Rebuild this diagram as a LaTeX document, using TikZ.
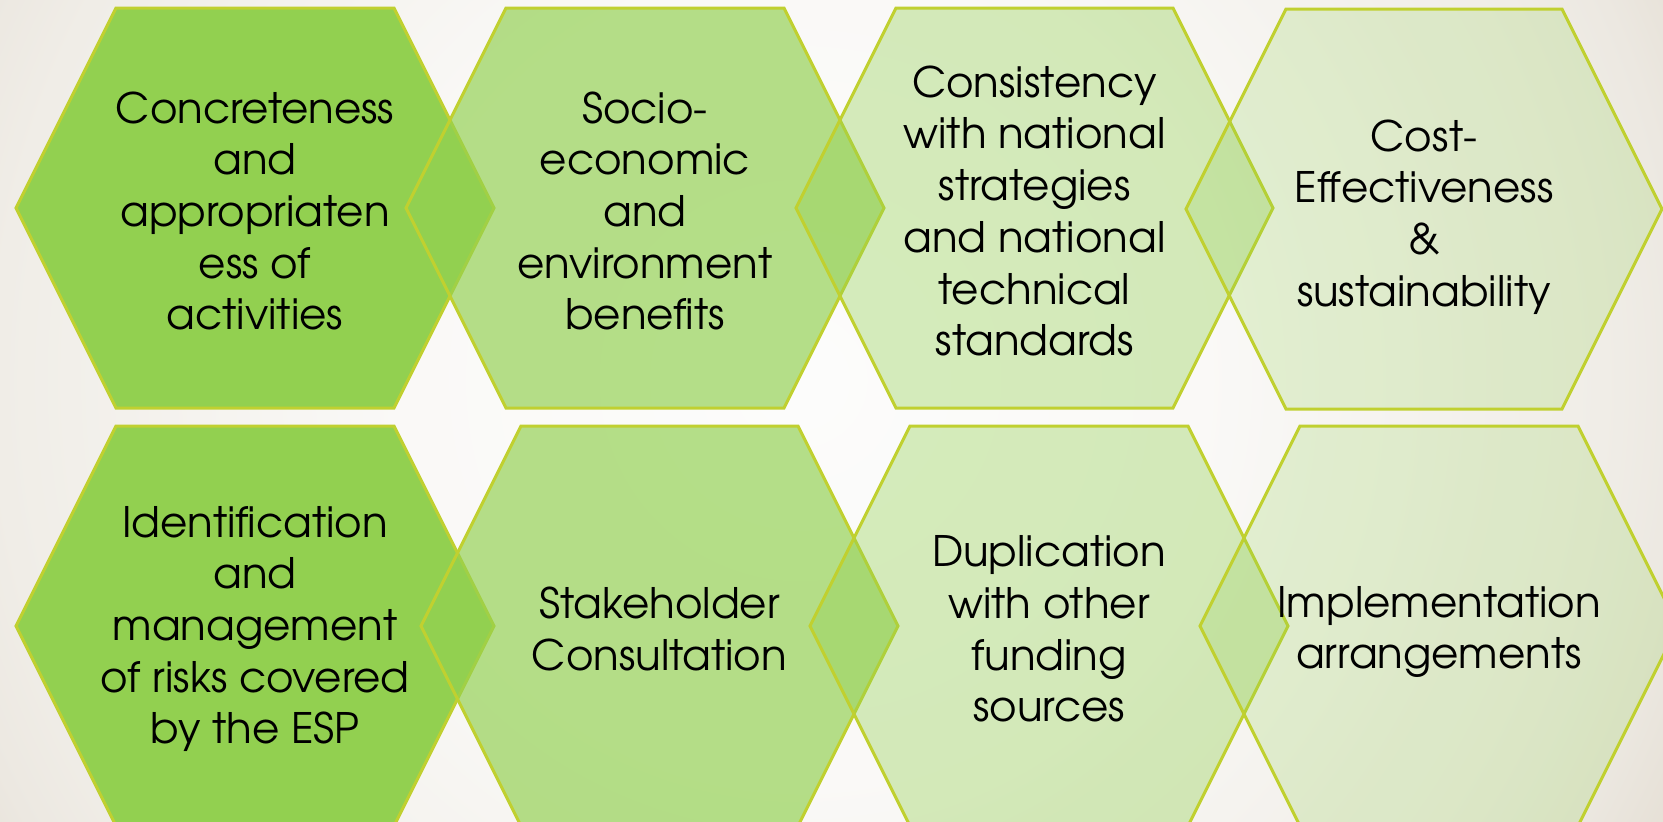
\documentclass[tikz,border=0pt]{standalone}
\usepackage{fontspec}
\setmainfont{TeX Gyre Adventor}
\definecolor{hexgreen}{HTML}{92D050}
\definecolor{hexedge}{HTML}{C0D030}
\definecolor{bgA}{HTML}{FCFCFB}
\definecolor{bgB}{HTML}{FAF9F7}
\definecolor{bgC}{HTML}{F0EDE7}
\definecolor{bgD}{HTML}{ECE8E1}
\definecolor{bgE}{HTML}{E6E0D6}
\definecolor{bgF}{HTML}{E3DDD2}
\pgfdeclareradialshading{bgshade}{\pgfpoint{0bp}{0bp}}{color(0bp)=(bgA); color(400bp)=(bgB); color(800bp)=(bgC); color(886bp)=(bgD); color(970bp)=(bgE); color(1000bp)=(bgF)}
\tikzset{
  hexline/.style={draw=hexedge, line width=3pt, line join=miter, fill=hexgreen},
  hextext/.style={align=center, text=black, inner sep=0pt, font=\fontsize{42}{51.7}\selectfont}
}
\newcommand\hexcell[7]{%
  \path[hexline, fill opacity=#4] (#1,#3) -- ({#1+100},{#3-200}) -- ({#2-100},{#3-200}) -- (#2,#3) -- ({#2-100},{#3+200}) -- ({#1+100},{#3+200}) -- cycle;
  \node[hextext] (#5) at ({(#1+#2)/2},{#3+#7}) {#6};
}
\begin{document}
\begin{tikzpicture}[x=1pt,y=-1pt]
\useasboundingbox (0,0) rectangle (1663,822);
\begin{scope}
  \clip (0,0) rectangle (1663,822);
  \node[inner sep=0pt] (bg) at (800,380) {\pgfuseshading{bgshade}};
  % top row
  \hexcell{16}{494}{208}{1}{h1}{Concreteness\\and\\appropriaten\\ess of\\activities}{3}
  \hexcell{406}{884}{208}{0.67}{h2}{Socio-\\economic\\and\\environment\\benefits}{3}
  \hexcell{796}{1273}{208}{0.37}{h3}{Consistency\\with national\\strategies\\and national\\technical\\standards}{3}
  \hexcell{1186}{1662}{209}{0.22}{h4}{Cost-\\Effectiveness\\\&\\sustainability}{8}
  % bottom row
  \hexcell{16}{494}{626}{1}{h5}{Identification\\and\\management\\of risks covered\\by the ESP}{3}
  \hexcell{421}{898}{626}{0.67}{h6}{Stakeholder\\Consultation}{3}
  \hexcell{810}{1288}{626}{0.37}{h7}{Duplication\\with other\\funding\\sources}{3}
  \hexcell{1200}{1678}{626}{0.22}{h8}{Implementation\\arrangements}{6}
\end{scope}
\end{tikzpicture}
\end{document}
